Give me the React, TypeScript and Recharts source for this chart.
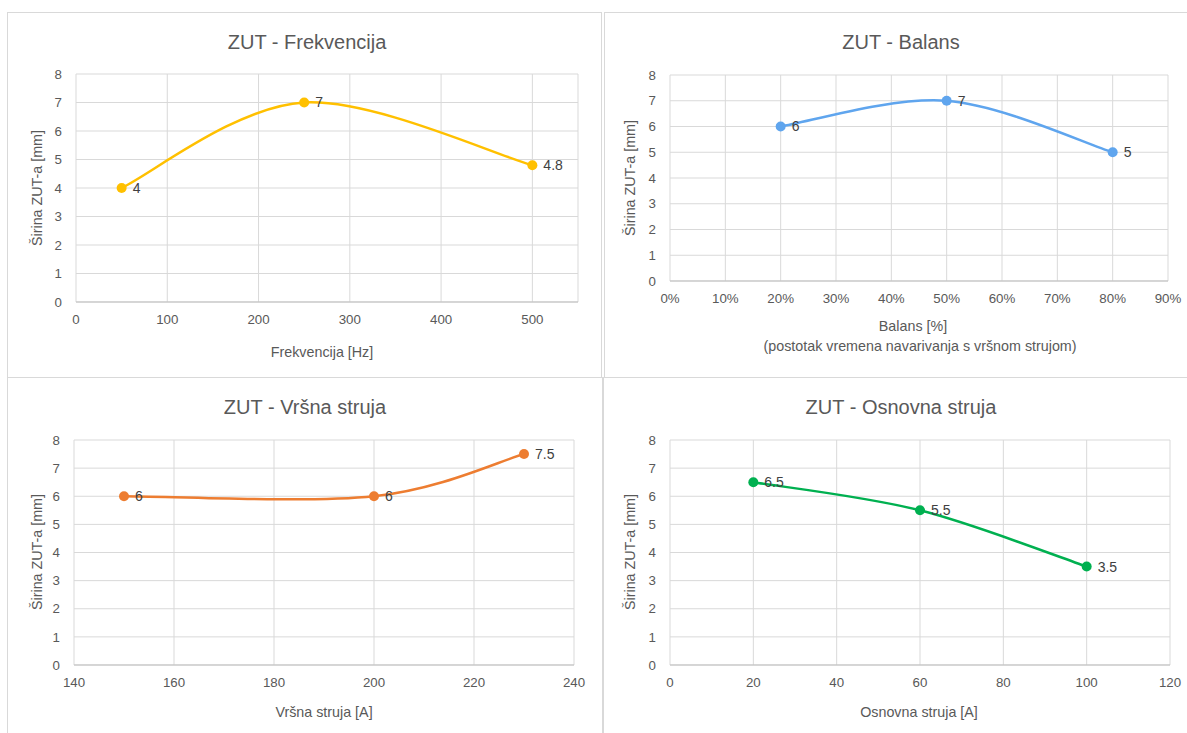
import React from 'react';
import { LineChart, Line, XAxis, YAxis, CartesianGrid, LabelList } from 'recharts';

// ---- data ----
const freqX = [50, 250, 500];
const freqY = [4, 7, 4.8];
const balansX = [20, 50, 80];
const balansY = [6, 7, 5];
const vrsnaX = [150, 200, 230];
const vrsnaY = [6, 6, 7.5];
const osnovnaX = [20, 60, 100];
const osnovnaY = [6.5, 5.5, 3.5];

const yTicks = [0, 1, 2, 3, 4, 5, 6, 7, 8];
const freqTicks = [0, 100, 200, 300, 400, 500];
const balansTicks = [0, 10, 20, 30, 40, 50, 60, 70, 80, 90];
const vrsnaTicks = [140, 160, 180, 200, 220, 240];
const osnovnaTicks = [0, 20, 40, 60, 80, 100, 120];

const titles = ['ZUT - Frekvencija', 'ZUT - Balans', 'ZUT - Vršna struja', 'ZUT - Osnovna struja'];
const yTitle = 'Širina ZUT-a [mm]';

const FONT = '"Liberation Sans", Arial, sans-serif';
const TEXT = '#595959';
const GRID = '#d9d9d9';

// Excel-like smoothed line (Catmull-Rom style Bezier)
const excelSmooth: any = (context: any) => {
  let pts: number[][] = [];
  return {
    areaStart() {},
    areaEnd() {},
    lineStart() {
      pts = [];
    },
    point(x: number, y: number) {
      pts.push([+x, +y]);
    },
    lineEnd() {
      const n = pts.length;
      if (n === 0) return;
      context.moveTo(pts[0][0], pts[0][1]);
      for (let i = 0; i < n - 1; i++) {
        const p0 = pts[Math.max(0, i - 1)];
        const p1 = pts[i];
        const p2 = pts[i + 1];
        const p3 = pts[Math.min(n - 1, i + 2)];
        context.bezierCurveTo(
          p1[0] + (p2[0] - p0[0]) / 6,
          p1[1] + (p2[1] - p0[1]) / 6,
          p2[0] - (p3[0] - p1[0]) / 6,
          p2[1] - (p3[1] - p1[1]) / 6,
          p2[0],
          p2[1]
        );
      }
    },
  };
};

const build = (xs: number[], ys: number[]) => xs.map((x, i) => ({ x, y: ys[i] }));

type PanelProps = {
  left: number;
  top: number;
  width: number;
  height: number;
  margin: { top: number; right: number; bottom: number; left: number };
  data: { x: number; y: number }[];
  domain: [number, number];
  ticks: number[];
  color: string;
  fmt?: (v: number) => string;
};

const Panel = ({ left, top, width, height, margin, data, domain, ticks, color, fmt }: PanelProps) => (
  <div style={{ position: 'absolute', left, top, width, height }}>
    <LineChart width={width} height={height} data={data} margin={margin}>
      <CartesianGrid stroke={GRID} strokeWidth={1} />
      <XAxis
        type="number"
        dataKey="x"
        domain={domain}
        ticks={ticks}
        allowDataOverflow
        tickFormatter={fmt}
        axisLine={{ stroke: '#bfbfbf', strokeWidth: 1 }}
        tickLine={false}
        tickSize={6}
        tickMargin={7}
        height={30}
        tick={{ fill: TEXT, fontSize: 13.3 }}
      />
      <YAxis
        type="number"
        domain={[0, 8]}
        ticks={yTicks}
        axisLine={false}
        tickLine={false}
        tickSize={6}
        tickMargin={8}
        width={40}
        tick={{ fill: TEXT, fontSize: 13.3 }}
      />
      <Line
        type={excelSmooth}
        dataKey="y"
        stroke={color}
        strokeWidth={2.5}
        dot={{ r: 5, fill: color, stroke: color, strokeWidth: 0 }}
        activeDot={false}
        isAnimationActive={false}
      >
        <LabelList dataKey="y" position="right" offset={11} fill="#404040" fontSize={14} />
      </Line>
    </LineChart>
  </div>
);

const Txt = ({ x, y, size, children, rotate }: any) => (
  <div
    style={{
      position: 'absolute',
      left: x,
      top: y,
      transform: `translate(-50%, -50%)${rotate ? ' rotate(-90deg)' : ''}`,
      whiteSpace: 'nowrap',
      fontSize: size,
      color: TEXT,
      fontFamily: FONT,
      lineHeight: 1,
    }}
  >
    {children}
  </div>
);

const Box = ({ left, top, width, height }: any) => (
  <div
    style={{
      position: 'absolute',
      left,
      top,
      width,
      height,
      boxSizing: 'border-box',
      border: `1px solid ${GRID}`,
    }}
  />
);

export default function App() {
  return (
    <div
      style={{
        position: 'absolute',
        left: 0,
        top: 0,
        width: 1187,
        height: 733,
        overflow: 'hidden',
        background: '#fff',
        fontFamily: FONT,
      }}
    >
      <Box left={7} top={12} width={595} height={366} />
      <Box left={604} top={12} width={600} height={366} />
      <Box left={7} top={377} width={596} height={400} />
      <Box left={603} top={377} width={600} height={400} />

      <Panel
        left={7}
        top={12}
        width={595}
        height={366}
        margin={{ top: 62, right: 24, bottom: 46, left: 29 }}
        data={build(freqX, freqY)}
        domain={[0, 550]}
        ticks={freqTicks}
        color="#FFC000"
      />
      <Panel
        left={604}
        top={12}
        width={583}
        height={366}
        margin={{ top: 63, right: 19, bottom: 67, left: 26 }}
        data={build(balansX, balansY)}
        domain={[0, 90]}
        ticks={balansTicks}
        color="#5FA5EE"
        fmt={(v: number) => `${v}%`}
      />
      <Panel
        left={7}
        top={377}
        width={595}
        height={356}
        margin={{ top: 63, right: 28, bottom: 38, left: 27 }}
        data={build(vrsnaX, vrsnaY)}
        domain={[140, 240]}
        ticks={vrsnaTicks}
        color="#ED7D31"
      />
      <Panel
        left={603}
        top={377}
        width={584}
        height={356}
        margin={{ top: 63, right: 17, bottom: 38, left: 27 }}
        data={build(osnovnaX, osnovnaY)}
        domain={[0, 120]}
        ticks={osnovnaTicks}
        color="#00B050"
      />

      <Txt x={307} y={42} size={20}>{titles[0]}</Txt>
      <Txt x={901} y={42} size={20}>{titles[1]}</Txt>
      <Txt x={305} y={407} size={20}>{titles[2]}</Txt>
      <Txt x={901} y={407} size={20}>{titles[3]}</Txt>

      <Txt x={37} y={188} size={14.3} rotate>{yTitle}</Txt>
      <Txt x={630} y={178} size={14.3} rotate>{yTitle}</Txt>
      <Txt x={37} y={552} size={14.3} rotate>{yTitle}</Txt>
      <Txt x={630} y={552} size={14.3} rotate>{yTitle}</Txt>

      <Txt x={322} y={352} size={14.3}>Frekvencija [Hz]</Txt>
      <Txt x={913} y={326} size={14.3}>Balans [%]</Txt>
      <Txt x={920} y={346} size={14.3}>(postotak vremena navarivanja s vršnom strujom)</Txt>
      <Txt x={324} y={712} size={14.3}>Vršna struja [A]</Txt>
      <Txt x={919} y={712} size={14.3}>Osnovna struja [A]</Txt>
    </div>
  );
}
